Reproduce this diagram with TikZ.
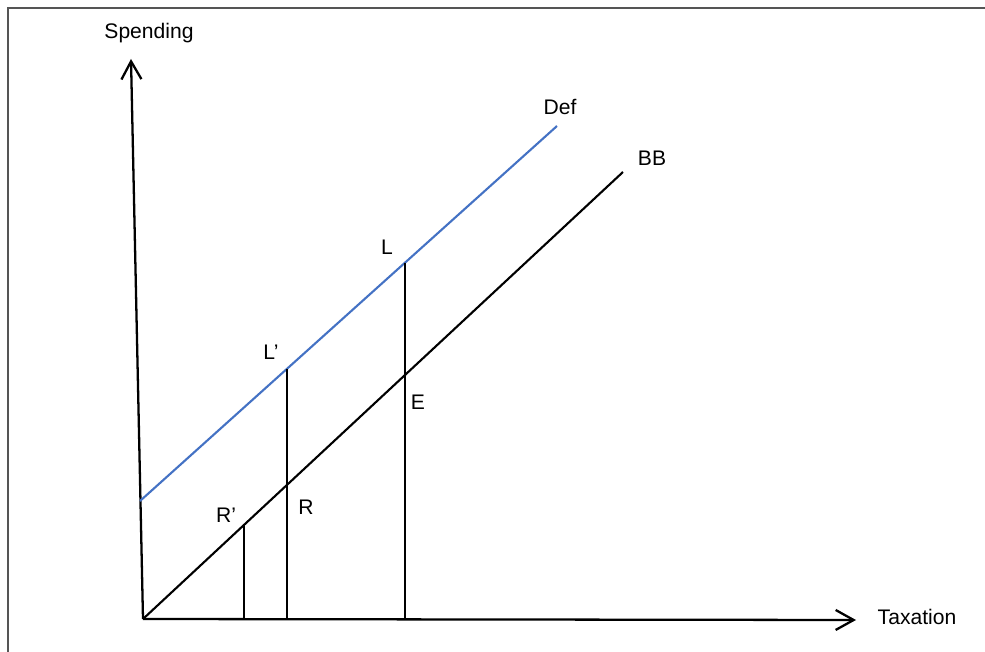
\documentclass[tikz,border=0pt]{standalone}
\usepackage{fontspec}
\setmainfont{Liberation Sans}
\usepackage{tikz}
\usetikzlibrary{arrows.meta}

\definecolor{defblue}{RGB}{68,114,196}
\definecolor{framegray}{RGB}{85,85,85}

\begin{document}
\begin{tikzpicture}[x=0.02cm, y=-0.02cm,
    font=\fontsize{12}{14}\selectfont,
    axis/.style={line width=1.3pt, -{Straight Barb[length=3.6mm, width=4mm, line width=1.3pt]}},
    budget/.style={line width=1.2pt},
    drop/.style={line width=0.6pt},
    lbl/.style={inner sep=0pt}]
    \useasboundingbox (0,0) rectangle (985,652);

    % Frame (only top and left edges show)
    \draw[framegray, line width=1.6pt] (8,652) -- (8,8) -- (985,8);

    % Axes
    \coordinate (O) at (143,619);
    \coordinate (ytip) at (131,59);
    \coordinate (xtip) at (856,620);
    \draw[axis] (O) -- (ytip);
    \draw[axis] (O) -- (xtip);
    \node[lbl] (spending) at (149,33) {Spending};
    \node[lbl] (taxation) at (917,617) {Taxation};

    % Balanced budget line and deficit line
    \coordinate (bbend) at (623,172);
    \coordinate (defstart) at (140,501);
    \coordinate (defend) at (557,126);
    \draw[budget] (O) -- (bbend);
    \draw[budget, defblue] (defstart) -- (defend);
    \node[lbl] (BB) at (652,158) {BB};
    \node[lbl] (Def) at (560,107) {Def};

    % Points on the lines
    \coordinate (L) at (405,262.7);
    \coordinate (Lp) at (287,368.8);
    \coordinate (E) at (405,375);
    \coordinate (R) at (287,485);
    \coordinate (Rp) at (244,525);

    % Vertical drops to the taxation axis
    \foreach \p in {L, Lp, Rp} {
        \draw[drop] (\p) -- (\p |- O);
    }

    \node[lbl] (Llbl) at (387,247) {L};
    \node[lbl] (Lplbl) at (271,352) {L’};
    \node[lbl] (Elbl) at (418,402) {E};
    \node[lbl] (Rlbl) at (306,507) {R};
    \node[lbl] (Rplbl) at (226,515) {R’};
\end{tikzpicture}
\end{document}
